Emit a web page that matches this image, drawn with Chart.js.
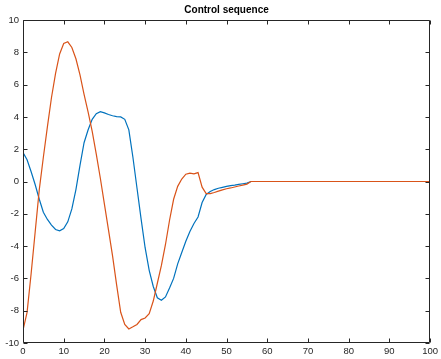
<!DOCTYPE html>
<html>
<head>
<meta charset="utf-8">
<script src="https://cdn.jsdelivr.net/npm/chart.js@4/dist/chart.umd.min.js"></script>
<style>
html,body{margin:0;padding:0;background:#fff;}
canvas{display:block;}
</style>
</head>
<body>
<canvas id="c" width="441" height="359"></canvas>
<script>
const title = "Control sequence";
const xTicks = [0,10,20,30,40,50,60,70,80,90,100];
const yTicks = [-10,-8,-6,-4,-2,0,2,4,6,8,10];
const steps = [0,1,2,3,4,5,6,7,8,9,10,11,12,13,14,15,16,17,18,19,20,21,22,23,24,25,26,27,28,29,30,31,32,33,34,35,36,37,38,39,40,41,42,43,44,45,46,47,48,49,50,51,52,53,54,55,56,57,58,59,60,61,62,63,64,65,66,67,68,69,70,71,72,73,74,75,76,77,78,79,80,81,82,83,84,85,86,87,88,89,90,91,92,93,94,95,96,97,98,99,100];
const seriesBlue = [1.8,1.35,0.6,-0.2,-1.1,-1.9,-2.35,-2.7,-2.97,-3.05,-2.92,-2.5,-1.7,-0.5,1.0,2.4,3.2,3.85,4.2,4.32,4.25,4.15,4.07,4.02,4.0,3.85,3.2,1.5,-0.4,-2.3,-4.1,-5.5,-6.5,-7.2,-7.35,-7.15,-6.6,-6.0,-5.1,-4.4,-3.7,-3.1,-2.6,-2.2,-1.3,-0.8,-0.62,-0.5,-0.42,-0.36,-0.3,-0.25,-0.22,-0.18,-0.14,-0.1,0,
0,0,0,0,0,0,0,0,0,0,0,0,0,0,0,0,0,0,0,0,0,0,0,0,0,0,0,0,0,0,0,0,0,0,0,0,0,0,0,0,0,0,0,0];
const seriesOrange = [-9.2,-8.1,-5.7,-3.1,-0.5,1.5,3.4,5.2,6.7,7.9,8.55,8.65,8.3,7.6,6.6,5.4,4.3,3.1,1.7,0.2,-1.4,-3.0,-4.6,-6.4,-8.1,-8.85,-9.13,-9.0,-8.85,-8.55,-8.45,-8.18,-7.4,-6.3,-5.2,-3.9,-2.4,-1.1,-0.3,0.15,0.45,0.52,0.47,0.55,-0.35,-0.75,-0.75,-0.68,-0.6,-0.52,-0.45,-0.4,-0.34,-0.28,-0.22,-0.16,0,
0,0,0,0,0,0,0,0,0,0,0,0,0,0,0,0,0,0,0,0,0,0,0,0,0,0,0,0,0,0,0,0,0,0,0,0,0,0,0,0,0,0,0,0];

const AX = '#262626';
const FONT = '"Liberation Sans", Arial, Helvetica, sans-serif';

const boxPlugin = {
  id: 'boxPlugin',
  afterDraw(chart) {
    const ctx = chart.ctx, a = chart.chartArea;
    const xs = chart.scales.x, ys = chart.scales.y;
    ctx.save();
    ctx.strokeStyle = AX;
    ctx.lineWidth = 1;
    ctx.beginPath();
    const L = Math.round(a.left) + 0.5, R = Math.round(a.right) - 0.5;
    const T = Math.round(a.top) + 0.5, B = Math.round(a.bottom) - 0.5;
    ctx.rect(L, T, R - L, B - T);
    const tl = 4;
    xTicks.forEach(v => {
      const px = Math.round(xs.getPixelForValue(v)) + 0.5;
      ctx.moveTo(px, B); ctx.lineTo(px, B - tl);
      ctx.moveTo(px, T); ctx.lineTo(px, T + tl);
    });
    yTicks.forEach(v => {
      const py = Math.round(ys.getPixelForValue(v)) + 0.5;
      ctx.moveTo(L, py); ctx.lineTo(L + tl, py);
      ctx.moveTo(R, py); ctx.lineTo(R - tl, py);
    });
    ctx.stroke();
    ctx.fillStyle = '#000';
    ctx.font = 'bold 10px ' + FONT;
    ctx.textAlign = 'center';
    ctx.textBaseline = 'middle';
    ctx.fillText(title, (a.left + a.right) / 2, 10);
    ctx.restore();
  }
};

new Chart(document.getElementById('c'), {
  type: 'line',
  data: {
    datasets: [
      { label: 'u1', data: steps.map((x, i) => ({x: x, y: seriesBlue[i]})), borderColor: '#0072BD', borderWidth: 1.2, pointRadius: 0, tension: 0, order: 2 },
      { label: 'u2', data: steps.map((x, i) => ({x: x, y: seriesOrange[i]})), borderColor: '#D95319', borderWidth: 1.2, pointRadius: 0, tension: 0, order: 1 }
    ]
  },
  options: {
    responsive: false,
    animation: false,
    events: [],
    layout: { padding: { top: 20, right: 9, left: 0, bottom: 0 } },
    plugins: { legend: { display: false }, tooltip: { enabled: false }, title: { display: false } },
    scales: {
      x: {
        type: 'linear', min: 0, max: 100,
        afterFit: s => { s.height = 16; },
        afterBuildTicks: s => { s.ticks = xTicks.map(v => ({value: v})); },
        grid: { display: false, drawTicks: false },
        border: { display: false },
        ticks: { color: AX, font: { family: FONT, size: 9.5 }, padding: 3, maxRotation: 0, autoSkip: false }
      },
      y: {
        type: 'linear', min: -10, max: 10,
        afterFit: s => { s.width = 23; },
        afterBuildTicks: s => { s.ticks = yTicks.map(v => ({value: v})); },
        grid: { display: false, drawTicks: false },
        border: { display: false },
        ticks: { color: AX, font: { family: FONT, size: 9.5 }, padding: 4, autoSkip: false }
      }
    }
  },
  plugins: [boxPlugin]
});
</script>
</body>
</html>
